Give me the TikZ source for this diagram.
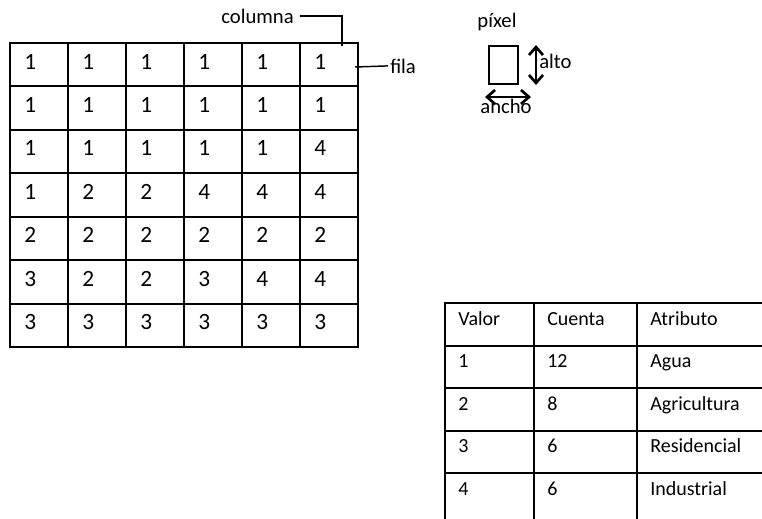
\documentclass[tikz,border=0pt]{standalone}
\usepackage{fontspec}
\setmainfont{Carlito}
\usetikzlibrary{positioning,arrows.meta}

\tikzset{
  cell/.style={draw,line width=1.5pt,anchor=north west,inner sep=0pt,outer sep=0pt,
    minimum width=43.5pt,minimum height=32.57pt},
  num/.style={anchor=base west,inner sep=0pt,font=\fontsize{17.5}{20}\selectfont},
  lbl/.style={inner sep=0pt,font=\fontsize{15.5}{18}\selectfont},
  lead/.style={line width=1.1pt},
  dim/.style={line width=2pt,
    {Straight Barb[length=6pt,width=10.5pt]}-{Straight Barb[length=6pt,width=10.5pt]}},
  tcell/.style={draw,line width=1.5pt,anchor=north west,inner sep=0pt,outer sep=0pt},
  ttext/.style={anchor=base west,inner sep=0pt,font=\fontsize{15}{18}\selectfont},
}

\begin{document}
\begin{tikzpicture}[x=0.75pt,y=-0.75pt]
\useasboundingbox (0,0) rectangle (762,518);

% raster grid
\foreach \vals [count=\r] in {{1,1,1,1,1,1},{1,1,1,1,1,1},{1,1,1,1,1,4},{1,2,2,4,4,4},
    {2,2,2,2,2,2},{3,2,2,3,4,4},{3,3,3,3,3,3}} {
  \foreach \v [count=\c] in \vals {
    \node[cell] (g-\r-\c) at ({10+58*(\c-1)},{43+43.43*(\r-1)}) {};
    \node[num] (n-\r-\c) at ([xshift=10.5pt,yshift=-19.5pt]g-\r-\c.north west) {\v};
  }
}

% columna / fila
\node[lbl,anchor=base east,inner xsep=4.5pt] (columna) at (300,23) {columna};
\coordinate (colpt) at (342,46);
\draw[lead] (columna.east) -| (colpt);
\node[lbl,anchor=base west,inner xsep=1.5pt] (fila) at (388,73) {fila};
\coordinate (filapt) at (355,67);
\draw[lead] (filapt) -- (fila.west);

% pixel
\node[draw,line width=1.5pt,anchor=north west,inner sep=0pt,
  minimum width=21.75pt,minimum height=28.5pt] (px) at (488,45) {};
\node[lbl,anchor=base] (pixel) at (497,27) {píxel};
\coordinate (altoT) at ([xshift=12.75pt]px.north east);
\coordinate (altoB) at ([xshift=12.75pt]px.south east);
\draw[dim] (altoT) -- (altoB);
\node[lbl,anchor=base west] (alto) at (539,68) {alto};
\coordinate (anchoL) at ([xshift=-2.25pt,yshift=-9pt]px.south west);
\coordinate (anchoR) at ([xshift=9pt,yshift=-9pt]px.south east);
\draw[dim] (anchoL) -- (anchoR);
\node[lbl,anchor=base] (ancho) at (506,113) {ancho};

% attribute table
\foreach \va/\cu/\at [count=\r] in {Valor/Cuenta/Atributo,1/12/Agua,2/8/Agricultura,
    3/6/Residencial,4/6/Industrial} {
  \pgfmathsetmacro\rh{ifthenelse(\r==5,45,31.875)}
  \node[tcell,minimum width=66.75pt,minimum height=\rh pt] (t-\r-1) at (445,{303+42.5*(\r-1)}) {};
  \node[tcell,minimum width=77.25pt,minimum height=\rh pt] (t-\r-2) at (534,{303+42.5*(\r-1)}) {};
  \node[tcell,minimum width=105pt,minimum height=\rh pt] (t-\r-3) at (637,{303+42.5*(\r-1)}) {};
  \node[ttext] at ([xshift=9.75pt,yshift=-16.5pt]t-\r-1.north west) {\va};
  \node[ttext] at ([xshift=9.75pt,yshift=-16.5pt]t-\r-2.north west) {\cu};
  \node[ttext] at ([xshift=9.75pt,yshift=-16.5pt]t-\r-3.north west) {\at};
}
\end{tikzpicture}
\end{document}
